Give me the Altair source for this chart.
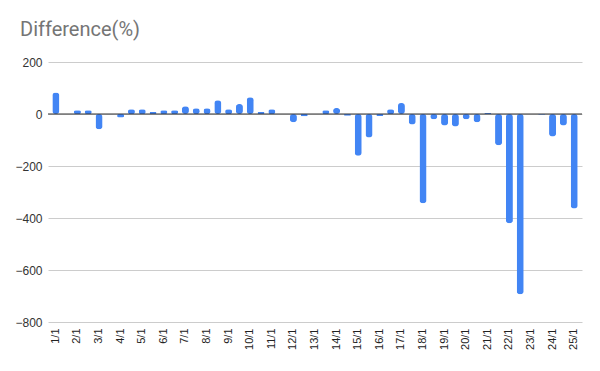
import altair as alt
import pandas as pd

# Tick labels shown on the x axis (every other bar)
tick_labels = ["1/1", "2/1", "3/1", "4/1", "5/1", "6/1", "7/1", "8/1", "9/1", "10/1",
               "11/1", "12/1", "13/1", "14/1", "15/1", "16/1", "17/1", "18/1", "19/1",
               "20/1", "21/1", "22/1", "23/1", "24/1", "25/1"]

# Bar values (Difference %), 49 bars
values = [83, 0, 14, 14, -59, -1, -13, 18, 18, 8,
          14, 14, 30, 22, 22, 53, 18, 38, 64, 8,
          18, 0, -32, -9, 0, 14, 23, -7, -161, -90,
          -8, 18, 42, -40, -343, -20, -44, -48, -20, -32,
          4, -120, -420, -693, 0, -3, -87, -44, -363]

positions = list(range(len(values)))
df = pd.DataFrame({"pos": positions, "value": values})

label_array = "[" + ",".join("'" + t + "'" for t in tick_labels) + "]"
label_expr = f"datum.value % 2 == 0 ? {label_array}[datum.value / 2] : ''"

y_scale = alt.Scale(domain=[-800, 200], nice=False)

bars = alt.Chart(df).mark_bar(color="#4285F4", cornerRadius=3).encode(
    x=alt.X("pos:O", sort=None,
            scale=alt.Scale(paddingInner=0.35, paddingOuter=0.4),
            axis=alt.Axis(title=None, labelExpr=label_expr, labelAngle=-90,
                          labelAlign="right", labelBaseline="middle",
                          ticks=False, domain=False, labelPadding=6,
                          labelFont="Liberation Sans", labelFontSize=11,
                          labelColor="#222222")),
    y=alt.Y("value:Q", scale=y_scale,
            axis=alt.Axis(title=None, values=[200, 0, -200, -400, -600, -800],
                          ticks=False, domain=False, labelPadding=6,
                          labelFont="Liberation Sans", labelFontSize=12,
                          labelColor="#333333", gridColor="#cccccc")),
)

zero = alt.Chart(pd.DataFrame({"z": [0]})).mark_rule(color="#333333", strokeWidth=1.2).encode(
    y=alt.Y("z:Q", scale=y_scale)
)

chart = alt.layer(bars, zero).properties(
    width=534,
    height=260,
    title=alt.TitleParams("Difference(%)", anchor="start", frame="group",
                          font="Roboto", fontSize=20, fontWeight="normal",
                          color="#757575", dx=-28, offset=16),
    autosize=alt.AutoSizeParams(type="none"),
    padding={"left": 40, "top": 54, "right": 10, "bottom": 40},
).configure_view(stroke=None)

chart.save("out.html", embed_options={"renderer": "svg", "actions": False})
